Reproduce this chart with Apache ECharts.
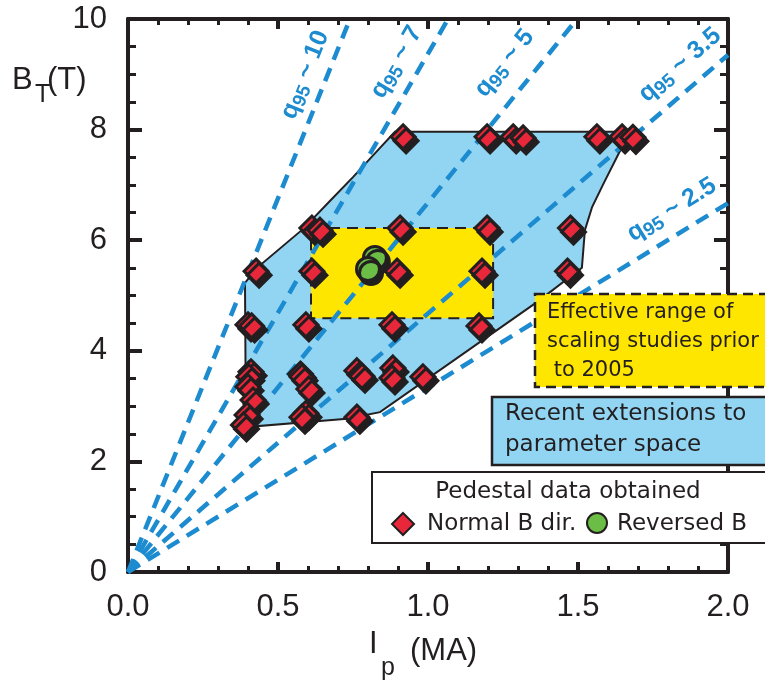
<!DOCTYPE html>
<html><head><meta charset="utf-8">
<script src="https://cdn.jsdelivr.net/npm/echarts/dist/echarts.min.js"></script>
<style>html,body{margin:0;padding:0;background:#fff}#c{width:765px;height:681px}</style>
</head><body><div id="c"></div>
<script>
// ---- data ----
const xTickLabels = ['0.0', '0.5', '1.0', '1.5', '2.0'];
const yTickLabels = ['0', '2', '4', '6', '8', '10'];

// Normal B direction pedestal data (Ip in MA, BT in T)
const normalI = [0.917, 1.197, 1.284, 1.317, 1.563, 1.647, 1.683,
  0.613, 0.64, 0.907, 1.197, 1.475,
  0.427, 0.613, 0.897, 1.18, 1.465,
  0.40, 0.412, 0.593, 0.88, 1.17,
  0.41, 0.403, 0.40, 0.417, 0.397, 0.385,
  0.575, 0.58, 0.603, 0.593, 0.58,
  0.763, 0.78, 0.883, 0.88, 0.763, 0.983];
const normalB = [7.87, 7.87, 7.87, 7.85, 7.87, 7.87, 7.86,
  6.22, 6.18, 6.22, 6.22, 6.22,
  5.44, 5.44, 5.44, 5.44, 5.44,
  4.47, 4.45, 4.47, 4.47, 4.45,
  3.62, 3.53, 3.35, 3.11, 2.84, 2.66,
  3.58, 3.53, 3.31, 2.87, 2.80,
  3.64, 3.54, 3.69, 3.51, 2.80, 3.53];
// Reversed B
const reversedI = [0.823, 0.80];
const reversedB = [5.68, 5.48];

// Region: recent extensions to parameter space (polygon outline)
const blueI = [0.39, 0.43, 0.583, 0.673, 0.75, 0.84, 0.89, 1.673, 1.647, 1.583, 1.547, 1.523, 1.513, 1.363, 0.84, 0.73, 0.393];
const blueB = [5.23, 5.50, 6.20, 6.71, 7.14, 7.67, 7.96, 7.96, 7.69, 7.00, 6.60, 6.18, 5.50, 4.88, 2.89, 2.77, 2.62];
// Region: effective range prior to 2005
const yellowI = [0.61, 1.217];
const yellowB = [4.59, 6.22];

// q95 guide lines (from origin to end point)
const qLabels = ['10', '7', '5', '3.5', '2.5'];
const qEndI = [0.74, 1.067, 1.497, 2.0, 2.0];
const qEndB = [10, 10, 10, 9.35, 6.67];
const qLabelI = [0.59, 0.895, 1.255, 1.84, 1.813];
const qLabelB = [8.99, 9.22, 9.20, 9.17, 6.55];

// ---- styles ----
const INK = '#231f20';
const QBLUE = '#1d8bcf';
const LIGHTBLUE = '#92d5f3';
const YELLOW = '#ffe600';
const RED = '#e8283a';
const GREEN = '#6bbd45';
const TICKFONT = 'Liberation Sans, Arial, sans-serif';
const BOXFONT = 'DejaVu Sans, sans-serif';

const chart = echarts.init(document.getElementById('c'), null, {renderer: 'canvas'});

function axisCommon(isX, showLabel) {
  return {
    min: 0, max: isX ? 2 : 10, interval: isX ? 0.5 : 2,
    axisLine: {show: true, onZero: false, lineStyle: {color: INK, width: 4}},
    axisTick: {show: true, inside: true, length: isX ? 10 : 14, lineStyle: {color: INK, width: 4}},
    minorTick: {show: true, splitNumber: isX ? 5 : 4, length: isX ? 6 : 8, lineStyle: {color: INK, width: 3}},
    splitLine: {show: false},
    axisLabel: {
      show: showLabel, margin: isX ? 20 : 21, color: INK, fontSize: 31, fontFamily: TICKFONT,
      formatter: v => isX ? xTickLabels[Math.round(v / 0.5)] : yTickLabels[Math.round(v / 2)]
    }
  };
}

const series = [];
series.push({
  type: 'custom', silent: true, z: 1,
  data: [[blueI[0], blueB[0]]],
  renderItem: (params, api) => ({
    type: 'polygon',
    shape: {points: blueI.map((x, i) => api.coord([x, blueB[i]]))},
    style: {fill: LIGHTBLUE, stroke: INK, lineWidth: 2}
  })
});
series.push({
  type: 'custom', silent: true, z: 2,
  data: [[yellowI[0], yellowB[0]]],
  renderItem: (params, api) => {
    const p0 = api.coord([yellowI[0], yellowB[1]]);
    const p1 = api.coord([yellowI[1], yellowB[0]]);
    return {
      type: 'rect',
      shape: {x: p0[0], y: p0[1], width: p1[0] - p0[0], height: p1[1] - p0[1]},
      style: {fill: YELLOW, stroke: INK, lineWidth: 2, lineDash: [11, 7]}
    };
  }
});
qLabels.forEach((q, i) => {
  series.push({
    type: 'line', z: 3, silent: true, symbol: 'none', clip: false,
    data: [[0, 0], [qEndI[i], qEndB[i]]],
    lineStyle: {color: QBLUE, width: 4.5, type: [14, 9], cap: 'butt'}
  });
});
const markerShadow = {shadowColor: INK, shadowOffsetX: 3, shadowOffsetY: 4, shadowBlur: 0};
series.push({
  type: 'scatter', name: 'Normal B dir.', z: 4, symbol: 'diamond', symbolSize: 24,
  data: normalI.map((x, i) => [x, normalB[i]]),
  itemStyle: Object.assign({color: RED, borderColor: INK, borderWidth: 3, opacity: 1}, markerShadow)
});
series.push({
  type: 'scatter', name: 'Reversed B', z: 5, symbol: 'circle', symbolSize: 23,
  data: reversedI.map((x, i) => [x, reversedB[i]]),
  itemStyle: Object.assign({color: GREEN, borderColor: INK, borderWidth: 3, opacity: 1}, markerShadow)
});

const option = {
  animation: false,
  backgroundColor: '#ffffff',
  grid: {left: 128, right: 37, top: 19, bottom: 109, containLabel: false},
  xAxis: [
    Object.assign({type: 'value', position: 'bottom'}, axisCommon(true, true)),
    Object.assign({type: 'value', position: 'top'}, axisCommon(true, false))
  ],
  yAxis: [
    Object.assign({type: 'value', position: 'left'}, axisCommon(false, true)),
    Object.assign({type: 'value', position: 'right'}, axisCommon(false, false))
  ],
  series: series
};
chart.setOption(option);

// ---- annotations (computed from data coordinates where tied to data) ----
const graphics = [];
qLabels.forEach((q, i) => {
  const p = chart.convertToPixel({xAxisIndex: 0, yAxisIndex: 0}, [qLabelI[i], qLabelB[i]]);
  const o = chart.convertToPixel({xAxisIndex: 0, yAxisIndex: 0}, [0, 0]);
  const e = chart.convertToPixel({xAxisIndex: 0, yAxisIndex: 0}, [qEndI[i], qEndB[i]]);
  const ang = Math.atan2(o[1] - e[1], e[0] - o[0]);
  graphics.push({
    type: 'text', x: p[0], y: p[1], rotation: ang, z: 60,
    style: {
      text: '{q|q}{s|95}{q| ~ ' + q + '}',
      align: 'center', verticalAlign: 'middle',
      rich: {
        q: {fontSize: 25, lineHeight: 30, fontFamily: TICKFONT, fontWeight: 'bold', fill: QBLUE, color: QBLUE},
        s: {fontSize: 19, lineHeight: 17, verticalAlign: 'bottom', fontFamily: TICKFONT, fontWeight: 'bold', fill: QBLUE, color: QBLUE}
      }
    }
  });
});

// axis names
graphics.push({type: 'text', x: 12, y: 80, z: 60, style: {text: 'B', font: '31px ' + TICKFONT, fill: INK, verticalAlign: 'middle'}});
graphics.push({type: 'text', x: 35, y: 95, z: 60, style: {text: 'T', font: '25px ' + TICKFONT, fill: INK, verticalAlign: 'middle'}});
graphics.push({type: 'text', x: 47, y: 80, z: 60, style: {text: '(T)', font: '31px ' + TICKFONT, fill: INK, verticalAlign: 'middle'}});
graphics.push({type: 'text', x: 369, y: 644, z: 60, style: {text: 'I', font: '31px ' + TICKFONT, fill: INK, verticalAlign: 'middle'}});
graphics.push({type: 'text', x: 381, y: 668, z: 60, style: {text: 'p', font: '25px ' + TICKFONT, fill: INK, verticalAlign: 'middle'}});
graphics.push({type: 'text', x: 410, y: 651, z: 60, style: {text: '(MA)', font: '31px ' + TICKFONT, fill: INK, verticalAlign: 'middle'}});

// yellow explanation box
graphics.push({type: 'rect', z: 70, shape: {x: 535, y: 294, width: 260, height: 93},
  style: {fill: YELLOW, stroke: INK, lineWidth: 2.5, lineDash: [10, 6]}});
graphics.push({type: 'text', x: 547, y: 298, z: 71, style: {text: 'Effective range of\nscaling studies prior\n to 2005',
  fontSize: 21, fontFamily: BOXFONT, lineHeight: 29, fill: INK, verticalAlign: 'top'}});
// blue explanation box
graphics.push({type: 'rect', z: 70, shape: {x: 492, y: 397, width: 300, height: 68},
  style: {fill: LIGHTBLUE, stroke: INK, lineWidth: 2.5}});
graphics.push({type: 'text', x: 505, y: 399, z: 71, style: {text: 'Recent extensions to\nparameter space',
  fontSize: 23, fontFamily: BOXFONT, lineHeight: 31, fill: INK, verticalAlign: 'top'}});
// legend box
graphics.push({type: 'rect', z: 70, shape: {x: 372, y: 472, width: 420, height: 71},
  style: {fill: '#ffffff', stroke: INK, lineWidth: 2}});
graphics.push({type: 'text', x: 568, y: 492, z: 71, style: {text: 'Pedestal data obtained',
  fontSize: 23, fontFamily: BOXFONT, fill: INK, align: 'center', verticalAlign: 'middle'}});
graphics.push({type: 'polygon', z: 71, shape: {points: [[403, 513], [414, 524], [403, 535], [392, 524]]},
  style: {fill: RED, stroke: INK, lineWidth: 2}});
graphics.push({type: 'text', x: 427, y: 524, z: 71, style: {text: 'Normal B dir.',
  fontSize: 23, fontFamily: BOXFONT, fill: INK, verticalAlign: 'middle'}});
graphics.push({type: 'circle', z: 71, shape: {cx: 597, cy: 523, r: 10},
  style: {fill: GREEN, stroke: INK, lineWidth: 2}});
graphics.push({type: 'text', x: 617, y: 524, z: 71, style: {text: 'Reversed B',
  fontSize: 23, fontFamily: BOXFONT, fill: INK, verticalAlign: 'middle'}});

chart.setOption({graphic: graphics});
</script>
</body></html>
